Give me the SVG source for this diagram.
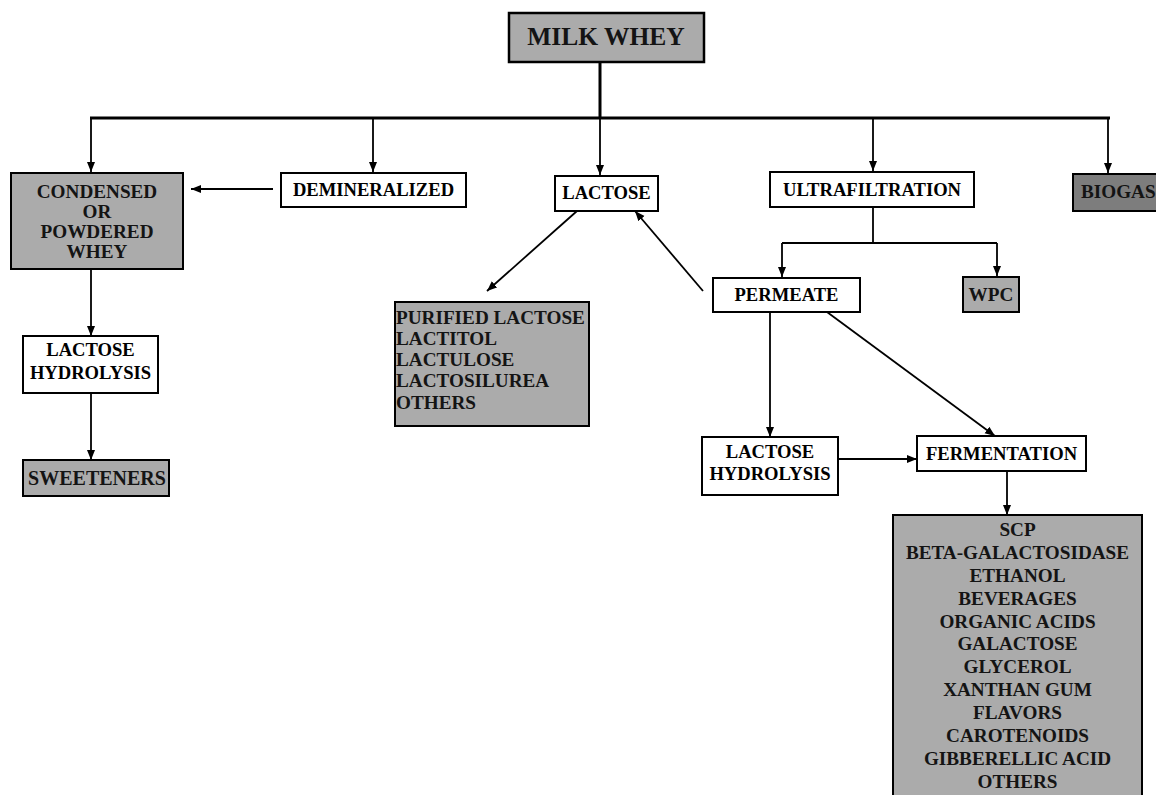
<svg xmlns="http://www.w3.org/2000/svg" width="1156" height="795" viewBox="0 0 1156 795">
<defs>
<marker id="ah" markerUnits="userSpaceOnUse" markerWidth="10" markerHeight="10" viewBox="0 0 10 10" refX="10" refY="5" orient="auto">
<path d="M0,1 L10,5 L0,9 Z" fill="#000"/>
</marker>
</defs>
<style>
.box{fill:#fff;stroke:#000;stroke-width:2}
.sh{fill:#ababab;stroke:#000;stroke-width:2}
.dk{fill:#7d7d7d;stroke:#000;stroke-width:2}
text{font-family:"Liberation Serif","Times New Roman",serif;font-weight:bold;font-size:18.6px;fill:#000}
.c{text-anchor:middle}
.st{fill:#141414;font-size:19.2px}
.ln{fill:none;stroke:#000;stroke-width:1.8}
.arr{fill:none;stroke:#000;stroke-width:1.8;marker-end:url(#ah)}
.thick{fill:none;stroke:#000;stroke-width:3}
</style>
<rect width="1156" height="795" fill="#fff"/>
<g id="connectors">
<line class="thick" x1="600" y1="62" x2="600" y2="118"/>
<line class="thick" x1="90" y1="118" x2="1110" y2="118"/>
<line class="arr" x1="91" y1="118" x2="91" y2="172"/>
<line class="arr" x1="373" y1="118" x2="373" y2="172"/>
<line class="arr" x1="600" y1="118" x2="600" y2="175"/>
<line class="arr" x1="873" y1="118" x2="873" y2="171"/>
<line class="arr" x1="1108" y1="118" x2="1108" y2="173"/>
<line class="arr" x1="273" y1="189" x2="191" y2="189"/>
<line class="arr" x1="91" y1="269" x2="91" y2="336"/>
<line class="arr" x1="91" y1="393" x2="91" y2="460"/>
<line class="arr" x1="577" y1="211" x2="487" y2="291"/>
<line class="arr" x1="703" y1="291" x2="635" y2="211"/>
<line class="ln" x1="873" y1="207" x2="873" y2="243"/>
<line class="ln" x1="782" y1="243" x2="997" y2="243"/>
<line class="arr" x1="782" y1="243" x2="782" y2="277"/>
<line class="arr" x1="997" y1="243" x2="997" y2="276"/>
<line class="arr" x1="770" y1="312" x2="770" y2="437"/>
<line class="arr" x1="827" y1="312" x2="995" y2="436"/>
<line class="arr" x1="838" y1="459" x2="917" y2="459"/>
<line class="arr" x1="1007" y1="471" x2="1007" y2="515"/>
</g>
<g id="milk-whey">
<rect class="sh" x="509" y="13" width="195" height="49" style="stroke-width:2.5"/>
<text class="c st" x="606" y="45" style="font-size:25.5px">MILK WHEY</text>
</g>
<g id="condensed">
<rect class="sh" x="11" y="173" width="172" height="96"/>
<text class="c st" x="97" y="198">CONDENSED</text>
<text class="c st" x="97" y="218">OR</text>
<text class="c st" x="97" y="238">POWDERED</text>
<text class="c st" x="97" y="258">WHEY</text>
</g>
<g id="demineralized">
<rect class="box" x="281" y="173" width="185" height="34"/>
<text class="c" x="373.5" y="196">DEMINERALIZED</text>
</g>
<g id="lactose">
<rect class="box" x="555" y="176" width="103" height="35"/>
<text class="c" x="606.5" y="199">LACTOSE</text>
</g>
<g id="ultrafiltration">
<rect class="box" x="770" y="172" width="204" height="35"/>
<text class="c" x="872" y="196">ULTRAFILTRATION</text>
</g>
<g id="biogas">
<rect class="dk" x="1073" y="174" width="90" height="37"/>
<text class="st" x="1081" y="198">BIOGAS</text>
</g>
<g id="permeate">
<rect class="box" x="713" y="278" width="147" height="34"/>
<text class="c" x="786.5" y="301">PERMEATE</text>
</g>
<g id="wpc">
<rect class="sh" x="963" y="277" width="56" height="35"/>
<text class="c st" x="991" y="301">WPC</text>
</g>
<g id="purified">
<rect class="sh" x="395" y="302" width="194" height="124"/>
<text class="st" x="396" y="324">PURIFIED LACTOSE</text>
<text class="st" x="396" y="345">LACTITOL</text>
<text class="st" x="396" y="366">LACTULOSE</text>
<text class="st" x="396" y="387">LACTOSILUREA</text>
<text class="st" x="396" y="409">OTHERS</text>
</g>
<g id="lactose-hydrolysis-left">
<rect class="box" x="23" y="336" width="135" height="57"/>
<text class="c" x="90.5" y="356">LACTOSE</text>
<text class="c" x="90.5" y="379">HYDROLYSIS</text>
</g>
<g id="sweeteners">
<rect class="sh" x="23" y="460" width="146" height="36"/>
<text class="c st" x="97" y="485" style="font-size:20px">SWEETENERS</text>
</g>
<g id="lactose-hydrolysis-right">
<rect class="box" x="702" y="437" width="136" height="58"/>
<text class="c" x="770" y="458">LACTOSE</text>
<text class="c" x="770" y="480">HYDROLYSIS</text>
</g>
<g id="fermentation">
<rect class="box" x="917" y="436" width="169" height="35"/>
<text class="c" x="1001.5" y="460">FERMENTATION</text>
</g>
<g id="products">
<rect class="sh" x="893" y="515" width="249" height="290"/>
<text class="c st" x="1017.5" y="536">SCP</text>
<text class="c st" x="1017.5" y="559">BETA-GALACTOSIDASE</text>
<text class="c st" x="1017.5" y="582">ETHANOL</text>
<text class="c st" x="1017.5" y="605">BEVERAGES</text>
<text class="c st" x="1017.5" y="628">ORGANIC ACIDS</text>
<text class="c st" x="1017.5" y="650">GALACTOSE</text>
<text class="c st" x="1017.5" y="673">GLYCEROL</text>
<text class="c st" x="1017.5" y="696">XANTHAN GUM</text>
<text class="c st" x="1017.5" y="719">FLAVORS</text>
<text class="c st" x="1017.5" y="742">CAROTENOIDS</text>
<text class="c st" x="1017.5" y="765">GIBBERELLIC ACID</text>
<text class="c st" x="1017.5" y="788">OTHERS</text>
</g>
</svg>
